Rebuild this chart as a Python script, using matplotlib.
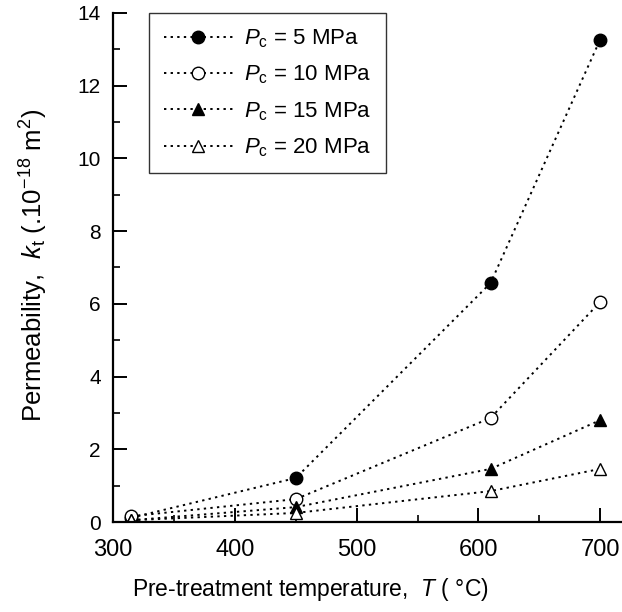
import matplotlib
matplotlib.use("Agg")
import matplotlib.pyplot as plt
from matplotlib.ticker import MultipleLocator

plt.rcParams['font.family'] = ['Liberation Sans', 'DejaVu Sans']
plt.rcParams['mathtext.fontset'] = 'custom'
plt.rcParams['mathtext.rm'] = 'Liberation Sans'
plt.rcParams['mathtext.it'] = 'Liberation Sans:italic'

temps = [315, 450, 610, 700]
k_5 = [0.12, 1.21, 6.57, 13.26]
k_10 = [0.16, 0.63, 2.86, 6.05]
k_15 = [0.05, 0.41, 1.46, 2.80]
k_20 = [0.05, 0.25, 0.85, 1.46]
labels = [r"$P_\mathrm{c}$ = 5 MPa", r"$P_\mathrm{c}$ = 10 MPa",
          r"$P_\mathrm{c}$ = 15 MPa", r"$P_\mathrm{c}$ = 20 MPa"]
xticks = [300, 400, 500, 600, 700]
yticks = [0, 2, 4, 6, 8, 10, 12, 14]

fig = plt.figure(figsize=(6.22, 6.12), dpi=100)
ax = fig.add_axes([0.182, 0.147, 0.818, 0.832])

styles = [
    dict(marker='o', mfc='black', mec='black'),
    dict(marker='o', mfc='white', mec='black'),
    dict(marker='^', mfc='black', mec='black'),
    dict(marker='^', mfc='white', mec='black'),
]
for ys, lab, st in zip([k_5, k_10, k_15, k_20], labels, styles):
    ax.plot(temps, ys, linestyle=(0, (1.2, 2.2)), color='black', lw=1.4,
            ms=9, mew=1.0, label=lab, **st)

ax.set_xlim(300, 718)
ax.set_ylim(0, 14)
ax.set_xticks(xticks)
ax.set_yticks(yticks)
ax.xaxis.set_minor_locator(MultipleLocator(50))
ax.yaxis.set_minor_locator(MultipleLocator(1))
ax.spines['top'].set_visible(False)
ax.spines['right'].set_visible(False)
ax.spines['left'].set_linewidth(1.6)
ax.spines['bottom'].set_linewidth(1.6)
ax.tick_params(which='major', direction='in', length=10, width=1.4)
ax.tick_params(axis='x', which='major', pad=12, labelsize=17)
ax.tick_params(axis='y', which='major', pad=9, labelsize=15)
ax.tick_params(which='minor', direction='in', length=5, width=1.2)

ax.set_xlabel("Pre-treatment temperature,  $T$ ( °C)", fontsize=16.5)
ax.xaxis.set_label_coords(0.387, -0.105)
ax.set_ylabel(r"Permeability,  $k_\mathrm{t}$ (.10$^{-18}$ m$^2$)", fontsize=18.5)
ax.yaxis.set_label_coords(-0.125, 0.505)

leg = ax.legend(loc='upper left', bbox_to_anchor=(0.071, 1.0), fontsize=16,
                frameon=True, fancybox=False, edgecolor='black', handlelength=3.1,
                borderpad=0.65, labelspacing=0.62, handletextpad=0.5, borderaxespad=0)
leg.get_frame().set_linewidth(1.0)

fig.savefig("out.png", dpi=100)
